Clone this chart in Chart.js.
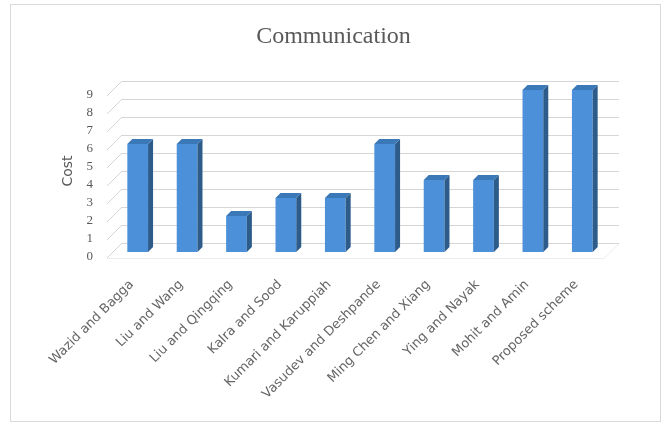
<!DOCTYPE html>
<html><head><meta charset="utf-8">
<script src="https://cdn.jsdelivr.net/npm/chart.js@4/dist/chart.umd.min.js"></script>
<style>html,body{margin:0;padding:0;background:#fff;}#wrap{width:667px;height:425px;}</style>
</head><body><div id="wrap"><canvas id="c" width="667" height="425"></canvas></div>
<script>
const categories = ['Wazid and Bagga','Liu and Wang','Liu and Qingqing','Kalra and Sood','Kumari and Karuppiah','Vasudev and Deshpande','Ming Chen and Xiang','Ying and Nayak','Mohit and Amin','Proposed scheme'];
const costValues = [6,6,2,3,3,6,4,4,9,9];
const yTickValues = [0,1,2,3,4,5,6,7,8,9];
const chartTitle = 'Communication';
const yAxisTitle = 'Cost';

const BACK = 9;   // depth offset of back wall from bar plane
const FRONT = 6;  // depth offset of front edge from bar plane
const BARD = 5;   // bar depth

const frame3d = {
  id: 'frame3d',
  beforeDraw(chart) {
    const ctx = chart.ctx;
    ctx.save();
    ctx.fillStyle = '#fff';
    ctx.fillRect(0, 0, chart.width, chart.height);
    ctx.strokeStyle = '#d9d9d9';
    ctx.lineWidth = 1;
    ctx.strokeRect(10.5, 4.5, 650, 417);
    ctx.restore();
  },
  beforeDatasetsDraw(chart) {
    const {ctx, chartArea: a, scales: {y}} = chart;
    ctx.save();
    ctx.strokeStyle = '#d6d6d6';
    ctx.lineWidth = 1;
    yTickValues.forEach(v => {
      const py = y.getPixelForValue(v);
      const by = Math.round(py - BACK) + 0.5;
      ctx.beginPath();
      ctx.moveTo(a.left + BACK, by);
      ctx.lineTo(a.right + BACK + 3, by);
      ctx.stroke();
      ctx.beginPath();
      ctx.moveTo(a.left - FRONT, py + FRONT);
      ctx.lineTo(a.left + BACK, py - BACK);
      ctx.stroke();
    });
    const y0 = y.getPixelForValue(0);
    ctx.strokeStyle = '#ececec';
    ctx.beginPath();
    ctx.moveTo(a.left - FRONT, Math.round(y0 + FRONT) + 0.5);
    ctx.lineTo(a.right - FRONT + 3, Math.round(y0 + FRONT) + 0.5);
    ctx.lineTo(a.right + BACK + 3, Math.round(y0 - BACK) + 0.5);
    ctx.stroke();
    ctx.restore();
  },
  afterDatasetsDraw(chart) {
    const ctx = chart.ctx;
    const meta = chart.getDatasetMeta(0);
    ctx.save();
    meta.data.forEach(el => {
      const {x, y, base, width} = el.getProps(['x', 'y', 'base', 'width'], true);
      const l = x - width / 2, r = x + width / 2;
      ctx.fillStyle = '#2d5c8a';
      ctx.beginPath();
      ctx.moveTo(r, base); ctx.lineTo(r + BARD, base - BARD);
      ctx.lineTo(r + BARD, y - BARD); ctx.lineTo(r, y);
      ctx.closePath(); ctx.fill();
      ctx.fillStyle = '#3a78b8';
      ctx.beginPath();
      ctx.moveTo(l, y); ctx.lineTo(r, y);
      ctx.lineTo(r + BARD, y - BARD); ctx.lineTo(l + BARD, y - BARD);
      ctx.closePath(); ctx.fill();
    });
    ctx.restore();
  }
};

new Chart(document.getElementById('c'), {
  type: 'bar',
  data: {
    labels: categories,
    datasets: [{
      data: costValues,
      backgroundColor: '#4b90d8',
      borderWidth: 0,
      categoryPercentage: 1,
      barPercentage: 0.42
    }]
  },
  options: {
    responsive: false,
    animation: false,
    devicePixelRatio: 1,
    layout: {padding: {left: 60, right: 60, top: 0, bottom: 0}},
    plugins: {
      legend: {display: false},
      tooltip: {enabled: false},
      title: {
        display: true, text: chartTitle, color: '#595959',
        font: {family: 'Liberation Serif', size: 24, weight: 'normal', lineHeight: 1.2},
        padding: {top: 22, bottom: 39.2}
      }
    },
    scales: {
      x: {
        offset: true,
        grid: {display: false, drawTicks: false},
        border: {display: false},
        ticks: {autoSkip: false, maxRotation: 45, minRotation: 45, padding: 25, labelOffset: -6,
                color: '#666', font: {family: 'DejaVu Sans', size: 13}},
        afterFit(s) { s.height = 425 - 252; }
      },
      y: {
        min: 0, max: 9,
        afterBuildTicks(s) { s.ticks = yTickValues.map(v => ({value: v})); },
        grid: {display: false, drawTicks: false},
        border: {display: false},
        ticks: {autoSkip: false, padding: 20, labelOffset: 4.5, color: '#595959',
                font: {family: 'Liberation Serif', size: 13}},
        title: {display: true, text: yAxisTitle, color: '#595959',
                font: {family: 'DejaVu Sans', size: 14}, padding: {top: 0, bottom: 0}},
        afterFit(s) { s.width = 53; }
      }
    }
  },
  plugins: [frame3d]
});
</script></body></html>
